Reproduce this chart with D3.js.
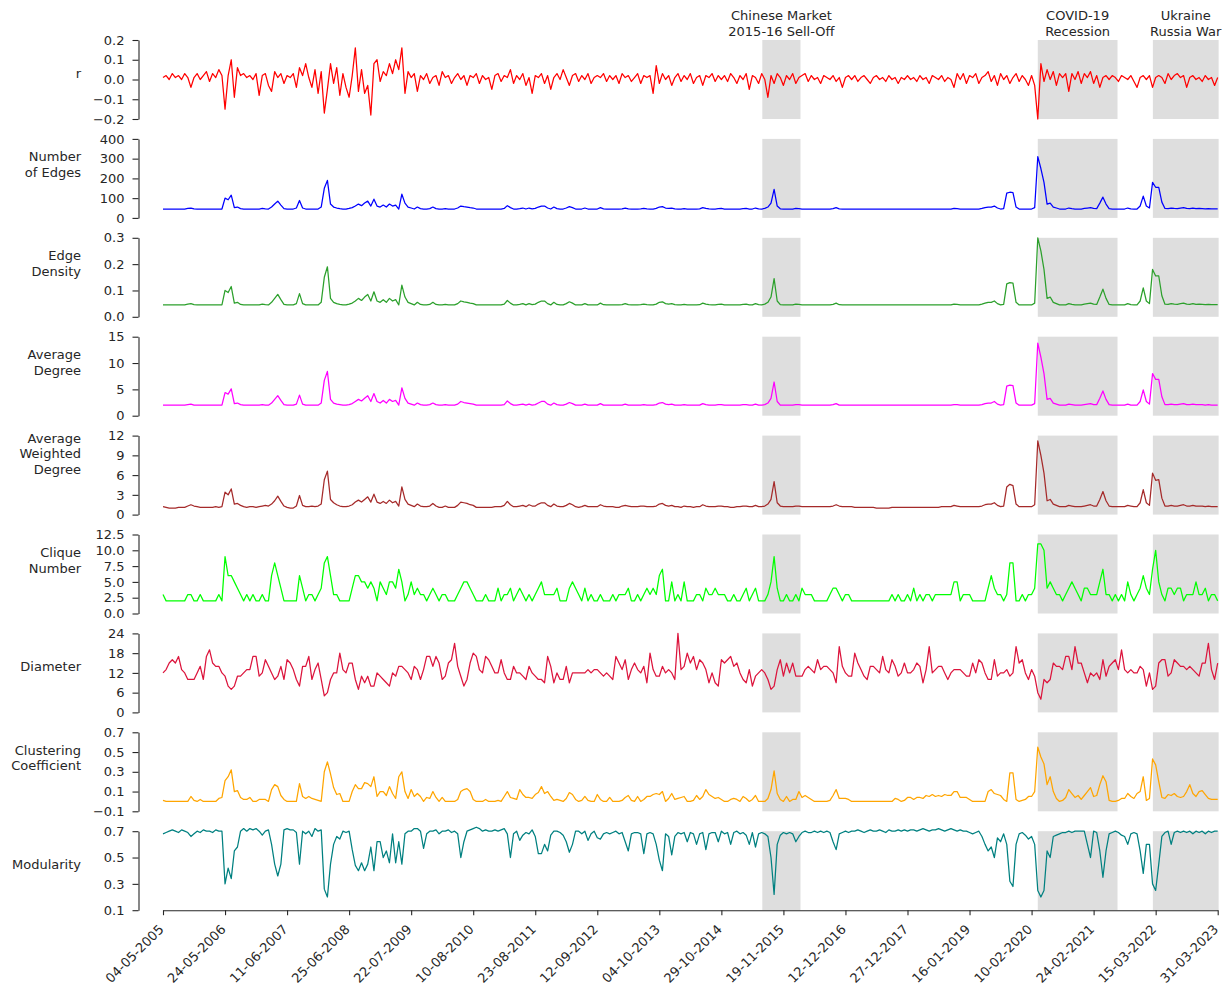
<!DOCTYPE html>
<html lang="en">
<head>
<meta charset="UTF-8" />
<title>Network metrics over time</title>
<script src="https://d3js.org/d3.v7.min.js"></script>
<style>
  body { margin: 0; background: #fff; }
  svg { font-family: "DejaVu Sans", sans-serif; }
  svg text { fill: #262626; font-size: 13px; }
  .axis path, .axis line { stroke: #262626; stroke-width: 1.1; }
  .series { fill: none; stroke-width: 1.25; stroke-linejoin: round; }
  .event { fill: #dedede; }
</style>
</head>
<body>
<svg id="chart" width="1231" height="989"></svg>
<script>
// x axis: weekly index, 20 points between two date labels
const xTickLabels = ["04-05-2005", "24-05-2006", "11-06-2007", "25-06-2008", "22-07-2009",
  "10-08-2010", "23-08-2011", "12-09-2012", "04-10-2013", "29-10-2014", "19-11-2015",
  "12-12-2016", "27-12-2017", "16-01-2019", "10-02-2020", "24-02-2021", "15-03-2022", "31-03-2023"];

// crisis periods (index range on the x axis)
const eventLabels = [["Chinese Market", "2015-16 Sell-Off"], ["COVID-19", "Recession"], ["Ukraine", "Russia War"]];
const eventStart = [193.2, 282.0, 319.1];
const eventEnd = [205.5, 307.7, 340.3];

const rValues = [
  0.01,0.02,0.00,0.03,0.01,0.02,0.00,0.03,0.01,-0.04,0.01,0.03,0.00,0.02,0.04,-0.01,0.03,0.01,0.05,0.02,
  -0.15,0.02,0.10,-0.09,0.06,0.02,0.03,0.01,0.02,0.00,0.03,-0.08,0.02,0.03,-0.03,-0.06,0.04,0.01,0.03,-0.02,
  0.02,0.01,0.03,-0.04,0.06,0.02,0.08,0.01,-0.04,0.05,-0.07,0.04,-0.17,-0.05,0.08,-0.02,0.06,-0.08,0.03,-0.04,
  -0.09,0.02,0.16,-0.06,0.05,-0.07,-0.03,-0.18,0.08,0.10,-0.01,0.04,0.02,0.08,0.03,0.10,0.05,0.16,-0.07,0.04,
  0.01,0.03,-0.06,0.02,0.00,0.03,-0.02,0.01,0.02,-0.03,0.04,0.01,0.02,-0.02,0.01,0.03,0.00,0.02,-0.03,0.02,
  0.01,0.03,-0.02,0.02,0.00,0.01,-0.05,0.02,0.03,-0.01,0.02,0.01,0.05,-0.02,0.02,0.00,0.03,-0.03,0.01,-0.07,
  0.02,0.01,0.03,-0.02,0.02,-0.05,0.01,0.03,0.00,0.05,0.01,-0.03,0.02,0.03,-0.01,0.02,0.00,0.03,-0.02,0.01,
  0.02,0.01,0.03,-0.01,0.02,0.00,0.02,-0.02,0.03,0.01,0.02,-0.01,0.01,0.03,-0.02,0.02,0.01,0.02,-0.07,0.07,
  -0.02,0.03,0.00,0.02,-0.03,0.01,0.03,-0.01,0.02,0.00,0.03,-0.02,0.01,0.02,-0.03,0.02,0.01,0.03,-0.01,0.02,
  0.00,0.02,-0.01,0.03,0.01,-0.02,0.02,0.00,0.03,-0.05,0.02,0.01,-0.02,0.03,0.00,-0.09,0.02,-0.02,0.03,0.01,
  -0.03,0.02,0.00,0.03,-0.02,0.01,0.02,0.03,-0.01,0.02,0.00,0.01,-0.02,0.02,0.01,0.00,0.02,-0.01,0.01,-0.04,
  0.01,0.02,0.00,0.02,-0.01,0.01,0.02,0.00,-0.02,0.01,0.02,0.00,0.01,-0.01,0.02,0.00,0.01,-0.02,0.01,0.00,
  0.02,0.00,0.01,-0.01,0.02,0.00,0.01,-0.02,0.02,0.01,0.00,0.02,-0.01,0.01,0.00,-0.04,0.03,0.00,0.03,-0.02,
  0.02,0.01,0.03,-0.02,0.01,0.02,0.04,-0.01,0.02,-0.03,0.03,0.00,0.02,-0.02,0.01,0.03,-0.01,0.02,0.00,-0.03,
  0.02,-0.03,-0.20,0.08,-0.01,0.05,0.00,0.04,-0.03,0.03,0.01,0.03,-0.06,0.03,0.00,0.04,-0.02,0.03,0.01,0.04,
  -0.02,0.02,-0.04,0.01,0.02,0.00,0.02,0.01,-0.01,0.02,0.01,0.00,0.02,-0.01,-0.04,0.01,0.02,0.00,0.02,-0.04,
  0.01,0.02,0.01,-0.02,0.03,0.00,0.02,0.03,0.01,0.02,-0.04,0.01,0.02,0.00,0.01,-0.01,0.02,0.00,0.01,-0.03,0.01
];

const edgesValues = [
  45,45,45,45,45,45,45,45,48,50,46,45,45,45,45,45,45,45,45,45,
  100,92,115,52,55,47,45,45,45,45,45,45,48,46,45,55,70,85,65,47,
  45,45,45,50,88,50,45,45,45,45,45,55,150,190,70,55,50,47,45,45,
  48,52,60,70,62,75,85,60,95,60,55,65,55,70,60,65,45,120,75,55,
  50,45,55,47,45,45,47,55,47,45,45,47,45,45,45,50,60,57,55,52,
  50,45,45,45,45,45,45,45,45,45,48,62,52,45,45,47,50,45,50,46,
  48,55,60,60,50,45,55,47,45,45,50,57,52,45,45,45,50,45,45,45,
  45,52,46,45,45,45,45,45,46,50,46,45,45,45,46,48,46,45,45,48,
  55,57,50,48,50,46,45,45,47,45,45,45,45,46,52,48,46,45,45,47,
  48,45,45,45,45,45,45,47,48,45,45,50,46,45,48,55,75,145,60,46,
  45,45,45,45,48,47,45,45,45,45,45,45,45,45,45,45,47,52,46,45,
  45,45,45,45,45,45,45,45,45,45,45,45,45,45,45,45,45,45,45,45,
  45,45,45,45,45,45,45,45,45,45,45,45,45,45,45,48,47,45,45,45,
  45,45,45,45,48,52,55,55,60,50,45,47,125,130,128,55,45,45,45,45,
  45,52,310,250,180,70,75,55,50,45,45,45,50,47,45,45,45,48,50,52,
  48,47,75,105,70,47,45,45,45,45,45,50,46,45,45,60,110,60,50,180,
  155,155,80,48,47,50,48,47,50,52,48,47,50,47,48,47,46,47,46,46,46
];

const densityValues = [
  .045,.045,.045,.045,.045,.045,.045,.045,.048,.05,.046,.045,.045,.045,.045,.045,.045,.045,.045,.045,
  .1,.092,.115,.052,.055,.047,.045,.045,.045,.045,.045,.045,.048,.046,.045,.055,.07,.085,.065,.047,
  .045,.045,.045,.05,.088,.05,.045,.045,.045,.045,.045,.055,.15,.19,.07,.055,.05,.047,.045,.045,
  .048,.052,.06,.07,.062,.075,.085,.06,.095,.06,.055,.065,.055,.07,.06,.065,.045,.12,.075,.055,
  .05,.045,.055,.047,.045,.045,.047,.055,.047,.045,.045,.047,.045,.045,.045,.05,.06,.057,.055,.052,
  .05,.045,.045,.045,.045,.045,.045,.045,.045,.045,.048,.062,.052,.045,.045,.047,.05,.045,.05,.046,
  .048,.055,.06,.06,.05,.045,.055,.047,.045,.045,.05,.057,.052,.045,.045,.045,.05,.045,.045,.045,
  .045,.052,.046,.045,.045,.045,.045,.045,.046,.05,.046,.045,.045,.045,.046,.048,.046,.045,.045,.048,
  .055,.057,.05,.048,.05,.046,.045,.045,.047,.045,.045,.045,.045,.046,.052,.048,.046,.045,.045,.047,
  .048,.045,.045,.045,.045,.045,.045,.047,.048,.045,.045,.05,.046,.045,.048,.055,.075,.145,.06,.046,
  .045,.045,.045,.045,.048,.047,.045,.045,.045,.045,.045,.045,.045,.045,.045,.045,.047,.052,.046,.045,
  .045,.045,.045,.045,.045,.045,.045,.045,.045,.045,.045,.045,.045,.045,.045,.045,.045,.045,.045,.045,
  .045,.045,.045,.045,.045,.045,.045,.045,.045,.045,.045,.045,.045,.045,.045,.048,.047,.045,.045,.045,
  .045,.045,.045,.045,.048,.052,.055,.055,.06,.05,.045,.047,.125,.13,.128,.055,.045,.045,.045,.045,
  .045,.052,.3,.25,.18,.07,.075,.055,.05,.045,.045,.045,.05,.047,.045,.045,.045,.048,.05,.052,
  .048,.047,.075,.105,.07,.047,.045,.045,.045,.045,.045,.05,.046,.045,.045,.06,.11,.06,.05,.18,
  .155,.155,.08,.048,.047,.05,.048,.047,.05,.052,.048,.047,.05,.047,.048,.047,.046,.047,.046,.046,.046
];

const degreeValues = [
  2,2,2,2,2,2,2,2,2.1,2.2,2,2,2,2,2,2,2,2,2,2,
  4.4,4.1,5.1,2.3,2.4,2.1,2,2,2,2,2,2,2.1,2,2,2.4,3.1,3.8,2.9,2.1,
  2,2,2,2.2,3.9,2.2,2,2,2,2,2,2.4,6.7,8.4,3.1,2.4,2.2,2.1,2,2,
  2.1,2.3,2.7,3.1,2.8,3.3,3.8,2.7,4.2,2.7,2.4,2.9,2.4,3.1,2.7,2.9,2,5.3,3.3,2.4,
  2.2,2,2.4,2.1,2,2,2.1,2.4,2.1,2,2,2.1,2,2,2,2.2,2.7,2.5,2.4,2.3,
  2.2,2,2,2,2,2,2,2,2,2,2.1,2.8,2.3,2,2,2.1,2.2,2,2.2,2,
  2.1,2.4,2.7,2.7,2.2,2,2.4,2.1,2,2,2.2,2.5,2.3,2,2,2,2.2,2,2,2,
  2,2.3,2,2,2,2,2,2,2,2.2,2,2,2,2,2,2.1,2,2,2,2.1,
  2.4,2.5,2.2,2.1,2.2,2,2,2,2.1,2,2,2,2,2,2.3,2.1,2,2,2,2.1,
  2.1,2,2,2,2,2,2,2.1,2.1,2,2,2.2,2,2,2.1,2.4,3.3,6.4,2.7,2,
  2,2,2,2,2.1,2.1,2,2,2,2,2,2,2,2,2,2,2.1,2.3,2,2,
  2,2,2,2,2,2,2,2,2,2,2,2,2,2,2,2,2,2,2,2,
  2,2,2,2,2,2,2,2,2,2,2,2,2,2,2,2.1,2.1,2,2,2,
  2,2,2,2,2.1,2.3,2.4,2.4,2.7,2.2,2,2.1,5.6,5.8,5.7,2.4,2,2,2,2,
  2,2.3,13.8,11.1,8,3.1,3.3,2.4,2.2,2,2,2,2.2,2.1,2,2,2,2.1,2.2,2.3,
  2.1,2.1,3.3,4.7,3.1,2.1,2,2,2,2,2,2.2,2,2,2,2.7,4.9,2.7,2.2,8,
  6.9,6.9,3.6,2.1,2.1,2.2,2.1,2.1,2.2,2.3,2.1,2.1,2.2,2.1,2.1,2.1,2,2.1,2,2,2
];

const weightedDegreeValues = [
  1.2,1.1,1.0,1.0,1.0,1.1,1.1,1.1,1.3,1.5,1.3,1.2,1.1,1.1,1.1,1.1,1.1,1.2,1.1,1.2,
  3.4,3.0,3.9,1.6,1.7,1.4,1.2,1.1,1.2,1.2,1.1,1.2,1.3,1.4,1.3,1.6,2.1,2.8,2.0,1.3,
  1.1,1.0,1.0,1.3,2.9,1.4,1.2,1.2,1.3,1.2,1.3,1.6,5.3,6.6,2.3,1.8,1.5,1.3,1.2,1.2,
  1.3,1.5,1.9,2.2,1.9,2.3,2.7,1.9,3.1,1.9,1.7,2.0,1.7,2.2,1.8,2.0,1.3,4.2,2.3,1.6,
  1.4,1.2,1.6,1.3,1.2,1.2,1.3,1.7,1.3,1.1,1.1,1.3,1.1,1.1,1.1,1.4,1.9,1.8,1.7,1.5,
  1.4,1.1,1.1,1.1,1.1,1.1,1.1,1.2,1.2,1.2,1.4,2.0,1.5,1.2,1.2,1.3,1.4,1.2,1.5,1.3,
  1.3,1.6,1.8,1.8,1.4,1.2,1.6,1.3,1.2,1.2,1.4,1.7,1.5,1.2,1.1,1.2,1.4,1.2,1.2,1.2,
  1.2,1.5,1.3,1.2,1.2,1.2,1.1,1.1,1.3,1.4,1.3,1.2,1.2,1.2,1.3,1.3,1.2,1.2,1.2,1.3,
  1.6,1.7,1.4,1.3,1.4,1.2,1.2,1.1,1.3,1.2,1.2,1.1,1.2,1.2,1.5,1.3,1.2,1.2,1.2,1.3,
  1.3,1.2,1.2,1.1,1.1,1.2,1.2,1.3,1.3,1.2,1.2,1.4,1.2,1.2,1.3,1.6,2.3,5.0,1.8,1.3,
  1.2,1.2,1.2,1.2,1.3,1.3,1.2,1.2,1.2,1.2,1.2,1.2,1.2,1.2,1.2,1.2,1.3,1.5,1.3,1.2,
  1.2,1.2,1.2,1.1,1.1,1.1,1.1,1.1,1.1,1.1,1.0,1.0,1.0,1.0,1.0,1.1,1.1,1.1,1.1,1.1,
  1.1,1.1,1.1,1.1,1.1,1.1,1.1,1.1,1.1,1.1,1.1,1.2,1.2,1.2,1.2,1.4,1.3,1.2,1.2,1.2,
  1.2,1.2,1.2,1.2,1.3,1.5,1.6,1.6,1.8,1.4,1.2,1.3,4.2,4.6,4.4,1.6,1.2,1.2,1.2,1.2,
  1.2,1.5,11.2,9.0,6.3,2.1,2.3,1.6,1.4,1.2,1.2,1.2,1.4,1.3,1.2,1.2,1.2,1.3,1.4,1.5,
  1.3,1.3,2.3,3.5,2.1,1.3,1.2,1.2,1.2,1.2,1.2,1.4,1.3,1.2,1.2,1.8,3.8,1.8,1.4,6.3,
  5.2,5.3,2.5,1.3,1.3,1.4,1.3,1.3,1.4,1.5,1.3,1.3,1.4,1.3,1.3,1.3,1.2,1.3,1.2,1.2,1.2
];

const cliqueValues = [
  3,2,2,2,2,2,2,2,3,3,2,2,3,2,2,2,2,2,3,2,
  9,6,6,5,4,3,2,3,2,3,2,2,3,2,2,6,8,6,4,2,
  2,2,2,2,6,4,2,3,3,2,3,4,8,9,6,3,3,2,2,2,
  2,4,6,6,5,5,4,5,4,2,5,4,3,5,5,4,7,5,2,3,
  5,3,4,3,3,2,3,4,3,2,3,3,2,2,2,3,4,5,5,4,
  3,2,2,2,3,2,2,2,4,2,3,3,4,2,3,4,3,2,3,2,
  3,4,5,3,3,3,3,4,2,2,2,4,5,4,3,2,4,2,3,2,
  2,3,2,2,2,3,2,3,3,3,4,2,2,3,2,3,4,3,4,3,
  6,7,2,2,5,2,3,2,5,2,2,2,3,3,2,4,3,3,4,3,
  3,3,2,2,3,2,2,3,4,2,3,4,2,2,2,3,5,9,4,2,
  2,3,2,2,3,2,4,3,3,3,2,2,2,2,2,3,4,4,3,2,
  3,3,2,2,2,2,2,2,2,2,2,2,2,2,2,3,2,3,2,2,
  3,2,4,2,3,2,3,3,2,3,3,3,3,3,3,5,5,2,3,3,
  3,2,2,2,2,2,4,6,4,3,3,2,3,8,8,2,2,3,2,3,
  3,4,11,11,10,4,5,4,3,3,2,3,4,5,4,3,2,4,4,3,
  3,3,5,7,3,3,2,3,2,3,2,5,3,2,3,4,6,4,3,7,
  10,5,3,2,4,4,3,4,4,2,3,3,3,5,3,3,4,2,3,3,2
];

const diameterValues = [
  12,13,15,16,15,17,13,12,10,10,10,12,14,10,17,19,15,14,14,12,
  11,8,7,8,11,11,12,13,13,17,17,11,12,16,14,12,10,11,14,10,
  16,15,13,10,8,14,14,17,10,13,15,10,5,6,10,12,12,18,13,12,
  15,15,10,7,11,9,11,8,8,12,11,10,9,8,12,11,14,14,13,12,
  10,14,13,10,13,17,17,14,17,15,10,11,15,16,21,14,11,8,10,15,
  18,17,13,12,17,16,14,12,12,16,12,10,10,14,12,12,11,10,14,12,
  11,10,10,9,17,14,9,12,10,10,14,9,12,12,12,12,12,13,12,13,
  13,12,11,12,11,10,17,15,13,16,10,13,15,13,12,14,9,18,13,11,
  11,14,12,13,12,10,24,13,14,18,15,17,13,16,15,13,9,12,9,8,
  16,15,16,17,14,15,12,10,9,13,8,11,12,13,12,10,7,8,13,16,
  11,15,12,15,11,11,11,13,14,13,12,16,13,14,14,13,12,9,20,14,
  12,11,11,18,15,13,11,10,14,14,13,12,17,13,12,16,14,11,12,15,
  12,12,13,15,14,9,13,20,12,13,14,14,12,10,12,13,13,13,12,11,
  11,15,12,16,15,12,10,10,16,11,12,12,13,11,12,20,15,16,12,10,
  13,11,6,4,10,9,10,15,14,14,13,17,17,13,20,15,15,12,9,12,
  11,12,10,16,11,14,15,16,13,19,13,12,13,12,12,14,13,8,12,7,
  8,15,16,16,11,12,16,15,14,14,13,14,13,12,11,15,15,21,13,10,15
];

const clusteringValues = [
  0.01,0,0,0,0,0,0,0,0,0.05,0.01,0,0.02,0,0,0,0,0,0.03,0.04,
  0.21,0.25,0.32,0.1,0.11,0.04,0.02,0.02,0.04,0,0,0.02,0.02,0.02,0,0.12,0.17,0.15,0.06,0.02,
  0,0,0,0,0.18,0.05,0.03,0.05,0.03,0.02,0.01,0,0.3,0.4,0.28,0.14,0.07,0.08,0,0,
  0,0.1,0.17,0.13,0.13,0.19,0.18,0.15,0.25,0.05,0.1,0.1,0.06,0.15,0.08,0.03,0.25,0.3,0.1,0.03,
  0.12,0.05,0.08,0.05,0,0.04,0.03,0.1,0.04,0,0.04,0,0,0,0,0.02,0.1,0.12,0.13,0.1,
  0.02,0,0,0,0.02,0,0,0,0.01,0,0.05,0.1,0.04,0.03,0.02,0.12,0.07,0.04,0.04,0.03,
  0.07,0.09,0.15,0.08,0.1,0.05,0.01,0.02,0.01,0,0.03,0.09,0.07,0.02,0,0.01,0.05,0.01,0,0,
  0.07,0.02,0,0,0.04,0,0,0,0.01,0.04,0.06,0.01,0,0.05,0,0.02,0.05,0.05,0.07,0.08,
  0.07,0.1,0,0.03,0.08,0.02,0.03,0.04,0.05,0,0,0.01,0.06,0.02,0.05,0.12,0.07,0.05,0.03,0.04,
  0.02,0,0,0.02,0.03,0.02,0,0.05,0.03,0,0.02,0.06,0,0,0,0.03,0.12,0.31,0.08,0.02,
  0,0.05,0,0.02,0.02,0.1,0.04,0.06,0.04,0.02,0,0,0,0,0,0.01,0.06,0.12,0.03,0.03,
  0.03,0.02,0,0,0,0,0,0,0,0,0,0,0,0,0,0,0.03,0.02,0,0.01,
  0.04,0.04,0.02,0.04,0.04,0.03,0.06,0.05,0.07,0.05,0.06,0.05,0.07,0.06,0.06,0.1,0.1,0.04,0.04,0.04,
  0.02,0,0,0,0,0,0.1,0.12,0.08,0.07,0.06,0.02,0,0.29,0.29,0.02,0,0.01,0.02,0.05,
  0.05,0.1,0.55,0.45,0.38,0.17,0.25,0.1,0.03,0,0.01,0.04,0.12,0.08,0.04,0.06,0.02,0.06,0.1,0.14,
  0.05,0.06,0.17,0.26,0.2,0.01,0,0,0.01,0.03,0.03,0.08,0.05,0.03,0.08,0.1,0.25,0.01,0.03,0.43,
  0.37,0.2,0.04,0.03,0.07,0.06,0.08,0.05,0.04,0.05,0.1,0.17,0.08,0.05,0.1,0.11,0.07,0.03,0.02,0.02,0.02
];

const modularityValues = [
  0.68,0.69,0.7,0.71,0.7,0.69,0.71,0.7,0.69,0.66,0.68,0.7,0.69,0.71,0.7,0.7,0.69,0.71,0.7,0.7,
  0.3,0.42,0.34,0.55,0.58,0.7,0.72,0.7,0.72,0.71,0.72,0.7,0.67,0.7,0.71,0.6,0.45,0.36,0.45,0.71,
  0.72,0.71,0.71,0.69,0.45,0.7,0.68,0.7,0.66,0.72,0.7,0.71,0.26,0.2,0.45,0.6,0.66,0.64,0.7,0.69,
  0.7,0.56,0.44,0.4,0.46,0.4,0.45,0.58,0.4,0.62,0.62,0.5,0.55,0.46,0.68,0.46,0.62,0.45,0.68,0.7,
  0.7,0.72,0.72,0.7,0.57,0.68,0.7,0.7,0.71,0.68,0.7,0.7,0.71,0.69,0.7,0.68,0.5,0.62,0.7,0.71,
  0.72,0.73,0.72,0.7,0.71,0.7,0.7,0.71,0.7,0.71,0.72,0.68,0.5,0.68,0.7,0.63,0.67,0.69,0.68,0.71,
  0.66,0.53,0.53,0.6,0.55,0.67,0.7,0.7,0.69,0.67,0.62,0.54,0.6,0.7,0.7,0.68,0.7,0.63,0.68,0.7,
  0.65,0.64,0.68,0.69,0.68,0.69,0.7,0.68,0.69,0.62,0.55,0.68,0.69,0.69,0.68,0.53,0.68,0.69,0.68,0.6,
  0.48,0.4,0.68,0.66,0.52,0.66,0.69,0.68,0.69,0.62,0.69,0.68,0.6,0.68,0.69,0.56,0.68,0.69,0.69,0.62,
  0.7,0.68,0.69,0.6,0.69,0.7,0.68,0.69,0.67,0.6,0.69,0.58,0.68,0.69,0.68,0.66,0.5,0.22,0.6,0.67,
  0.69,0.68,0.69,0.68,0.62,0.66,0.69,0.7,0.69,0.69,0.7,0.69,0.7,0.69,0.7,0.69,0.62,0.56,0.68,0.69,
  0.7,0.69,0.7,0.7,0.71,0.7,0.69,0.7,0.71,0.7,0.7,0.71,0.7,0.69,0.71,0.7,0.7,0.71,0.7,0.71,
  0.7,0.71,0.71,0.7,0.71,0.72,0.71,0.7,0.71,0.71,0.72,0.71,0.7,0.71,0.72,0.71,0.7,0.71,0.7,0.7,
  0.69,0.68,0.69,0.7,0.66,0.6,0.55,0.58,0.5,0.65,0.62,0.68,0.6,0.32,0.28,0.6,0.68,0.69,0.67,0.64,
  0.66,0.6,0.25,0.2,0.25,0.55,0.5,0.66,0.67,0.68,0.69,0.69,0.7,0.69,0.7,0.7,0.7,0.7,0.6,0.5,
  0.7,0.69,0.55,0.35,0.55,0.68,0.69,0.7,0.69,0.67,0.66,0.6,0.68,0.69,0.68,0.55,0.38,0.6,0.6,0.3,
  0.25,0.45,0.66,0.69,0.7,0.6,0.69,0.7,0.69,0.7,0.69,0.7,0.68,0.7,0.69,0.7,0.68,0.7,0.69,0.7,0.7
];

// y tick values of each panel
const rTicks = [-0.2, -0.1, 0, 0.1, 0.2];
const edgesTicks = [0, 100, 200, 300, 400];
const densityTicks = [0, 0.1, 0.2, 0.3];
const degreeTicks = [0, 5, 10, 15];
const weightedTicks = [0, 3, 6, 9, 12];
const cliqueTicks = [0, 2.5, 5, 7.5, 10, 12.5];
const diameterTicks = [0, 6, 12, 18, 24];
const clusteringTicks = [-0.1, 0.1, 0.3, 0.5, 0.7];
const modularityTicks = [0.1, 0.3, 0.5, 0.7];

const panels = [
  { label: ["r"], values: rValues, ticks: rTicks, fmt: ".1f", color: "#ff0000" },
  { label: ["Number", "of Edges"], values: edgesValues, ticks: edgesTicks, fmt: "d", color: "#0000ff" },
  { label: ["Edge", "Density"], values: densityValues, ticks: densityTicks, fmt: ".1f", color: "#2ca02c" },
  { label: ["Average", "Degree"], values: degreeValues, ticks: degreeTicks, fmt: "d", color: "#ff00ff" },
  { label: ["Average", "Weighted", "Degree"], values: weightedDegreeValues, ticks: weightedTicks, fmt: "d", color: "#a52a2a" },
  { label: ["Clique", "Number"], values: cliqueValues, ticks: cliqueTicks, fmt: ".1f", color: "#00ff00" },
  { label: ["Diameter"], values: diameterValues, ticks: diameterTicks, fmt: "d", color: "#dc143c" },
  { label: ["Clustering", "Coefficient"], values: clusteringValues, ticks: clusteringTicks, fmt: ".1f", color: "#ffa500" },
  { label: ["Modularity"], values: modularityValues, ticks: modularityTicks, fmt: ".1f", color: "#008080" }
];

const svg = d3.select("#chart");
const panelH = 79;
const panelStep = 98.9;
const firstTop = 40;
const spineX = 138.5;

const x = d3.scaleLinear().domain([0, 340]).range([163, 1217.7]);

panels.forEach((p, i) => {
  const top = firstTop + i * panelStep;
  const g = svg.append("g").attr("transform", `translate(0,${top})`);
  const y = d3.scaleLinear().domain(d3.extent(p.ticks)).range([panelH, 0]);

  // shaded crisis periods
  eventStart.forEach((s, k) => {
    g.append("rect")
      .attr("class", "event")
      .attr("x", x(s))
      .attr("width", x(eventEnd[k]) - x(s))
      .attr("y", 0)
      .attr("height", panelH);
  });

  // left axis, trimmed to the tick range
  g.append("g")
    .attr("class", "axis")
    .attr("transform", `translate(${spineX},0)`)
    .call(d3.axisLeft(y).tickValues(p.ticks).tickFormat(d3.format(p.fmt))
      .tickSize(6).tickSizeOuter(0).tickPadding(8))
    .attr("font-size", null)
    .attr("font-family", null);

  // series line
  g.append("path")
    .datum(p.values)
    .attr("class", "series")
    .attr("stroke", p.color)
    .attr("d", d3.line().x((d, j) => x(j)).y(d => y(d)));

  // y label, right aligned, lines stacked upward
  const mid = panelH / 2;
  const n = p.label.length;
  p.label.forEach((line, k) => {
    g.append("text")
      .attr("x", 81)
      .attr("y", mid - 1.5 - (n - 1 - k) * 15.5)
      .attr("text-anchor", "end")
      .text(line);
  });
});

// bottom axis under the last panel
const bottomY = firstTop + (panels.length - 1) * panelStep + panelH;
const xAxis = svg.append("g")
  .attr("class", "axis")
  .attr("transform", `translate(0,${bottomY})`)
  .call(d3.axisBottom(x).tickValues(d3.range(0, 341, 20))
    .tickFormat((d, k) => xTickLabels[k]).tickSize(5).tickSizeOuter(0))
  .attr("font-size", null)
  .attr("font-family", null);

xAxis.selectAll(".tick text")
  .attr("x", 0)
  .attr("y", 0)
  .attr("dy", 0)
  .attr("text-anchor", "end")
  .attr("transform", "translate(1,20) rotate(-45)");

// event labels above the first panel
eventLabels.forEach((lines, k) => {
  const cx = (x(eventStart[k]) + x(eventEnd[k])) / 2;
  lines.forEach((line, m) => {
    svg.append("text")
      .attr("x", cx)
      .attr("y", 20 + m * 15.5)
      .attr("text-anchor", "middle")
      .text(line);
  });
});
</script>
</body>
</html>
